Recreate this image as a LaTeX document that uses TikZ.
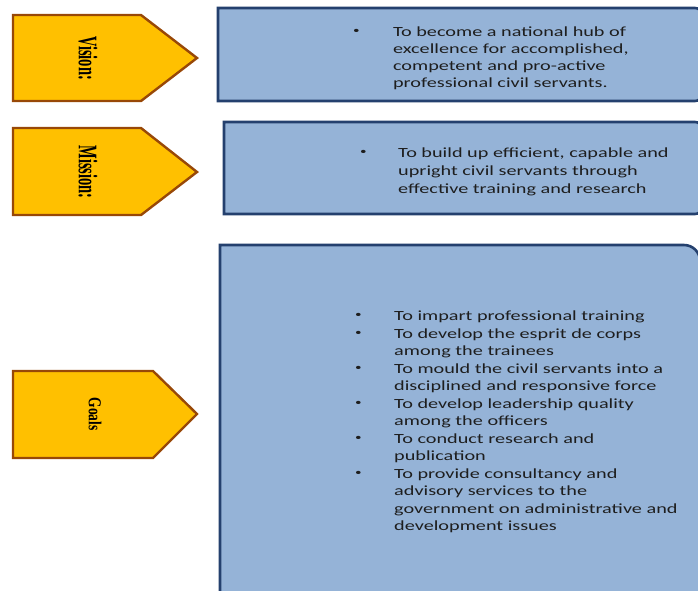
\documentclass[tikz,border=0pt]{standalone}
\usepackage{graphicx}
\usepackage{fontspec}
\setmainfont{Liberation Serif}
\newfontfamily\bodyfont{Carlito}
\definecolor{orangefill}{RGB}{255,192,0}
\definecolor{orangeedge}{RGB}{152,72,7}
\definecolor{bluefill}{RGB}{149,179,215}
\definecolor{blueedge}{RGB}{36,64,110}
\definecolor{textdark}{RGB}{30,30,30}
\newcommand\smallbul{\raisebox{0.45ex}{\scalebox{0.65}{\textbullet}}}
\tikzset{
  tag/.style={fill=orangefill,draw=orangeedge,line width=2.4pt,line join=miter},
  bluebox/.style={fill=bluefill,draw=blueedge,line width=2.6pt},
  taglabel/.style={rotate=-90,inner sep=0,font=\bfseries\fontsize{14.5}{14.5}\selectfont,text=black},
  listtext/.style={anchor=base west,inner sep=0,text=textdark}
}
\begin{document}
\begin{tikzpicture}[x=1pt,y=1pt]
\useasboundingbox (0,0) rectangle (698,-590);
\clip (0,0) rectangle (698,-590);
\fill[white] (0,0) rectangle (698,-590);

% orange tags
\draw[tag] (13,-15) -- (141,-15) -- (197,-58) -- (141,-101) -- (13,-101) -- cycle;
\draw[tag] (13,-128) -- (141,-128) -- (197,-172) -- (141,-215) -- (13,-215) -- cycle;
\draw[tag] (13,-371) -- (153,-371) -- (197,-414) -- (153,-458) -- (13,-458) -- cycle;

\node[taglabel] (vlabel) at (88,-58) {\scalebox{1}[1.85]{Vision:}};
\node[taglabel] (mlabel) at (88,-172) {\scalebox{1}[1.85]{Mission:}};
\node[taglabel,font=\bfseries\fontsize{13.5}{13.5}\selectfont] (glabel) at (95,-414) {\scalebox{1}[1.35]{Goals}};

% blue boxes (square left corners, rounded right corners)
\draw[bluebox] (218,-8) -- (695,-8) arc[start angle=90,end angle=0,radius=7] -- (702,-94)
  arc[start angle=0,end angle=-90,radius=7] -- (218,-101) -- cycle;
\draw[bluebox] (224,-122) -- (695,-122) arc[start angle=90,end angle=0,radius=7] -- (702,-207)
  arc[start angle=0,end angle=-90,radius=7] -- (224,-214) -- cycle;
\draw[bluebox] (220,-245) -- (684,-245) arc[start angle=90,end angle=0,radius=16] -- (700,-600)
  -- (220,-600) -- cycle;

\node[listtext,font=\bodyfont\fontsize{14}{17}\selectfont] (vtext) at (353,-36.5)
{\scalebox{1.445}[1]{\begin{tabular}[t]{@{}p{27.6pt}@{}l@{}}
\smallbul & To become a national hub of\\
 & excellence for accomplished,\\
 & competent and pro-active\\
 & professional civil servants.
\end{tabular}}};

\node[listtext,font=\bodyfont\fontsize{14}{18}\selectfont] (mtext) at (360,-157.5)
{\scalebox{1.445}[1]{\begin{tabular}[t]{@{}p{26.3pt}@{}l@{}}
\smallbul & To build up efficient, capable and\\
 & upright civil servants through\\
 & effective training and research
\end{tabular}}};

\node[listtext,font=\bodyfont\fontsize{14}{17.5}\selectfont] (gtext) at (355,-320.5)
{\scalebox{1.445}[1]{\begin{tabular}[t]{@{}p{27pt}@{}l@{}}
\smallbul & To impart professional training\\
\smallbul & To develop the esprit de corps\\
 & among the trainees\\
\smallbul & To mould the civil servants into a\\
 & disciplined and responsive force\\
\smallbul & To develop leadership quality\\
 & among the officers\\
\smallbul & To conduct research and\\
 & publication\\
\smallbul & To provide consultancy and\\
 & advisory services to the\\
 & government on administrative and\\
 & development issues
\end{tabular}}};
\end{tikzpicture}
\end{document}
